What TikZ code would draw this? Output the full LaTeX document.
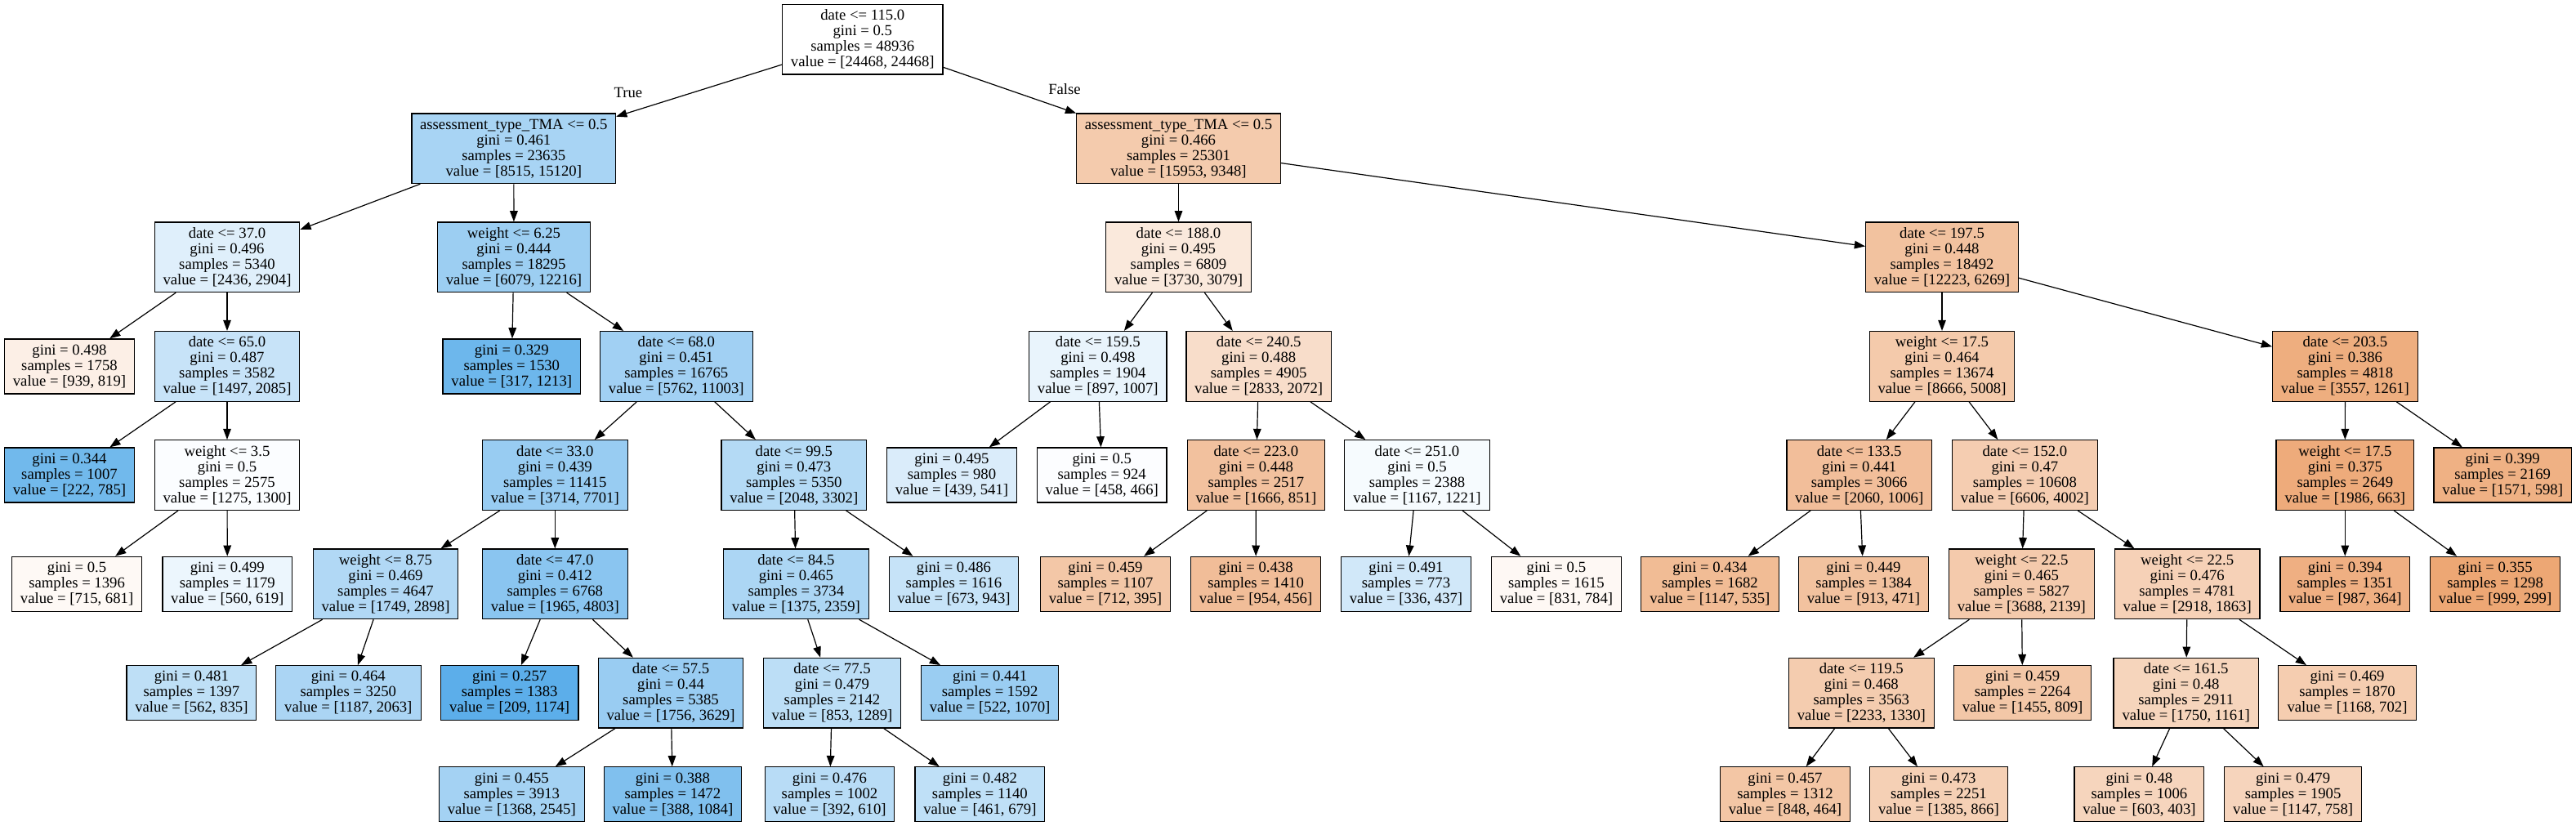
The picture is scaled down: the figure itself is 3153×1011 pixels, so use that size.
\documentclass[tikz,border=0pt]{standalone}
\usepackage{fontspec}
\setmainfont{Liberation Serif}
\usetikzlibrary{arrows.meta}
\definecolor{cO}{HTML}{E58139}
\definecolor{cB}{HTML}{399DE5}
\newcommand{\fs}{\fontsize{9.35pt}{9.5pt}\selectfont}
\tikzset{
  nd/.style={draw=black, line width=0.6pt, rectangle, inner xsep=1pt, inner ysep=0pt, align=center, font=\fs, minimum height=42.85pt},
  lf/.style={nd, minimum height=33.5pt},
  wa/.style={minimum width=79.35pt},
  wb/.style={minimum width=84.25pt},
  wc/.style={minimum width=88.8pt},
  wd/.style={minimum width=93.4pt},
  conn/.style={draw=black, line width=0.6pt, -{Triangle[length=6.6pt,width=4.8pt]}},
  lbl/.style={font=\fs, inner sep=0pt}
}
\begin{document}
\begin{tikzpicture}[x=0.5pt,y=-0.5pt]
\fill[white] (0,0) rectangle (3153,1011);
\useasboundingbox (0,0) rectangle (3153,1011);
% rank 0
\node[nd,minimum width=98.2pt,fill=white] (R) at (1055.8,48.2) {date <= 115.0\\gini = 0.5\\samples = 48936\\value = [24468, 24468]};
% rank 1
\node[nd,minimum width=124.75pt,fill=cB!43.7!white] (L1a) at (628.8,181.8) {assessment\_type\_TMA <= 0.5\\gini = 0.461\\samples = 23635\\value = [8515, 15120]};
\node[nd,minimum width=124.75pt,fill=cO!41.4!white] (L1b) at (1442.5,181.8) {assessment\_type\_TMA <= 0.5\\gini = 0.466\\samples = 25301\\value = [15953, 9348]};
% rank 2
\node[nd,wc,fill=cB!16.1!white] (L2a) at (278,314.8) {date <= 37.0\\gini = 0.496\\samples = 5340\\value = [2436, 2904]};
\node[nd,wd,fill=cB!50.2!white] (L2b) at (629,314.8) {weight <= 6.25\\gini = 0.444\\samples = 18295\\value = [6079, 12216]};
\node[nd,wc,fill=cO!17.5!white] (L2c) at (1442.5,314.8) {date <= 188.0\\gini = 0.495\\samples = 6809\\value = [3730, 3079]};
\node[nd,wd,fill=cO!48.7!white] (L2d) at (2377,314.8) {date <= 197.5\\gini = 0.448\\samples = 18492\\value = [12223, 6269]};
% rank 3
\node[lf,wa,fill=cO!12.8!white] (L3a) at (85,448.4) {gini = 0.498\\samples = 1758\\value = [939, 819]};
\node[nd,wc,fill=cB!28.2!white] (L3b) at (278,448.4) {date <= 65.0\\gini = 0.487\\samples = 3582\\value = [1497, 2085]};
\node[lf,wb,fill=cB!73.9!white] (L3c) at (626.3,448.4) {gini = 0.329\\samples = 1530\\value = [317, 1213]};
\node[nd,wd,fill=cB!47.6!white] (L3d) at (827.8,448.4) {date <= 68.0\\gini = 0.451\\samples = 16765\\value = [5762, 11003]};
\node[nd,wb,fill=cB!10.9!white] (L3e) at (1343.8,448.4) {date <= 159.5\\gini = 0.498\\samples = 1904\\value = [897, 1007]};
\node[nd,wc,fill=cO!26.9!white] (L3f) at (1540.7,448.4) {date <= 240.5\\gini = 0.488\\samples = 4905\\value = [2833, 2072]};
\node[nd,wc,fill=cO!42.2!white] (L3g) at (2377,448.4) {weight <= 17.5\\gini = 0.464\\samples = 13674\\value = [8666, 5008]};
\node[nd,wc,fill=cO!64.5!white] (L3h) at (2870.4,448.4) {date <= 203.5\\gini = 0.386\\samples = 4818\\value = [3557, 1261]};
% rank 4
\node[lf,wa,fill=cB!71.7!white] (L4a) at (85,581.5) {gini = 0.344\\samples = 1007\\value = [222, 785]};
\node[nd,wc,fill=cB!1.9!white] (L4b) at (278,581.5) {weight <= 3.5\\gini = 0.5\\samples = 2575\\value = [1275, 1300]};
\node[nd,wc,fill=cB!51.8!white] (L4c) at (679.3,581.5) {date <= 33.0\\gini = 0.439\\samples = 11415\\value = [3714, 7701]};
\node[nd,wc,fill=cB!38.0!white] (L4d) at (971.8,581.5) {date <= 99.5\\gini = 0.473\\samples = 5350\\value = [2048, 3302]};
\node[lf,wa,fill=cB!18.9!white] (L4e) at (1165,581.5) {gini = 0.495\\samples = 980\\value = [439, 541]};
\node[lf,wa,fill=cB!1.7!white] (L4f) at (1348.7,581.5) {gini = 0.5\\samples = 924\\value = [458, 466]};
\node[nd,wb,fill=cO!48.9!white] (L4g) at (1537.4,581.5) {date <= 223.0\\gini = 0.448\\samples = 2517\\value = [1666, 851]};
\node[nd,wc,fill=cB!4.4!white] (L4h) at (1734.5,581.5) {date <= 251.0\\gini = 0.5\\samples = 2388\\value = [1167, 1221]};
\node[nd,wc,fill=cO!51.2!white] (L4i) at (2275.7,581.5) {date <= 133.5\\gini = 0.441\\samples = 3066\\value = [2060, 1006]};
\node[nd,wc,fill=cO!39.4!white] (L4j) at (2478.4,581.5) {date <= 152.0\\gini = 0.47\\samples = 10608\\value = [6606, 4002]};
\node[nd,wb,fill=cO!66.6!white] (L4k) at (2870.3,581.5) {weight <= 17.5\\gini = 0.375\\samples = 2649\\value = [1986, 663]};
\node[lf,wb,fill=cO!61.9!white] (L4l) at (3063.2,581.5) {gini = 0.399\\samples = 2169\\value = [1571, 598]};
% rank 5
\node[lf,wa,fill=cO!4.8!white] (L5a) at (94.1,714.8) {gini = 0.5\\samples = 1396\\value = [715, 681]};
\node[lf,wa,fill=cB!9.5!white] (L5b) at (278.3,714.8) {gini = 0.499\\samples = 1179\\value = [560, 619]};
\node[nd,wc,fill=cB!39.6!white] (L5c) at (472,714.8) {weight <= 8.75\\gini = 0.469\\samples = 4647\\value = [1749, 2898]};
\node[nd,wc,fill=cB!59.1!white] (L5d) at (679.3,714.8) {date <= 47.0\\gini = 0.412\\samples = 6768\\value = [1965, 4803]};
\node[nd,wc,fill=cB!41.7!white] (L5e) at (974.4,714.8) {date <= 84.5\\gini = 0.465\\samples = 3734\\value = [1375, 2359]};
\node[lf,wa,fill=cB!28.6!white] (L5f) at (1167.5,714.8) {gini = 0.486\\samples = 1616\\value = [673, 943]};
\node[lf,wa,fill=cO!44.5!white] (L5g) at (1353,714.8) {gini = 0.459\\samples = 1107\\value = [712, 395]};
\node[lf,wa,fill=cO!52.2!white] (L5h) at (1537.1,714.8) {gini = 0.438\\samples = 1410\\value = [954, 456]};
\node[lf,wa,fill=cB!23.1!white] (L5i) at (1721,714.8) {gini = 0.491\\samples = 773\\value = [336, 437]};
\node[lf,wa,fill=cO!5.7!white] (L5j) at (1904.9,714.8) {gini = 0.5\\samples = 1615\\value = [831, 784]};
\node[lf,wb,fill=cO!53.4!white] (L5k) at (2092.9,714.8) {gini = 0.434\\samples = 1682\\value = [1147, 535]};
\node[lf,wa,fill=cO!48.4!white] (L5l) at (2281,714.8) {gini = 0.449\\samples = 1384\\value = [913, 471]};
\node[nd,wc,fill=cO!42.0!white] (L5m) at (2474.3,714.8) {weight <= 22.5\\gini = 0.465\\samples = 5827\\value = [3688, 2139]};
\node[nd,wc,fill=cO!36.2!white] (L5n) at (2677.2,714.8) {weight <= 22.5\\gini = 0.476\\samples = 4781\\value = [2918, 1863]};
\node[lf,wa,fill=cO!63.1!white] (L5o) at (2870.3,714.8) {gini = 0.394\\samples = 1351\\value = [987, 364]};
\node[lf,wa,fill=cO!70.1!white] (L5p) at (3054.1,714.8) {gini = 0.355\\samples = 1298\\value = [999, 299]};
% rank 6
\node[lf,wa,fill=cB!32.7!white] (L6a) at (234.4,848.2) {gini = 0.481\\samples = 1397\\value = [562, 835]};
\node[lf,wc,fill=cB!42.5!white] (L6b) at (426.3,848.2) {gini = 0.464\\samples = 3250\\value = [1187, 2063]};
\node[lf,wb,fill=cB!82.2!white] (L6c) at (623.7,848.2) {gini = 0.257\\samples = 1383\\value = [209, 1174]};
\node[nd,wc,fill=cB!51.6!white] (L6d) at (821,848.2) {date <= 57.5\\gini = 0.44\\samples = 5385\\value = [1756, 3629]};
\node[nd,wb,fill=cB!33.8!white] (L6e) at (1018.5,848.2) {date <= 77.5\\gini = 0.479\\samples = 2142\\value = [853, 1289]};
\node[lf,wb,fill=cB!51.2!white] (L6f) at (1211.6,848.2) {gini = 0.441\\samples = 1592\\value = [522, 1070]};
\node[nd,wc,fill=cO!40.4!white] (L6g) at (2278.3,848.2) {date <= 119.5\\gini = 0.468\\samples = 3563\\value = [2233, 1330]};
\node[lf,wb,fill=cO!44.4!white] (L6h) at (2475.6,848.2) {gini = 0.459\\samples = 2264\\value = [1455, 809]};
\node[nd,wc,fill=cO!33.7!white] (L6i) at (2675.7,848.2) {date <= 161.5\\gini = 0.48\\samples = 2911\\value = [1750, 1161]};
\node[lf,wb,fill=cO!39.9!white] (L6j) at (2873,848.2) {gini = 0.469\\samples = 1870\\value = [1168, 702]};
% rank 7
\node[lf,wc,fill=cB!46.2!white] (L7a) at (626.3,972.3) {gini = 0.455\\samples = 3913\\value = [1368, 2545]};
\node[lf,wb,fill=cB!64.2!white] (L7b) at (823.4,972.3) {gini = 0.388\\samples = 1472\\value = [388, 1084]};
\node[lf,wa,fill=cB!35.7!white] (L7c) at (1015.5,972.3) {gini = 0.476\\samples = 1002\\value = [392, 610]};
\node[lf,wa,fill=cB!32.1!white] (L7d) at (1199.4,972.3) {gini = 0.482\\samples = 1140\\value = [461, 679]};
\node[lf,wa,fill=cO!45.3!white] (L7e) at (2185,972.3) {gini = 0.457\\samples = 1312\\value = [848, 464]};
\node[lf,wb,fill=cO!37.5!white] (L7f) at (2372.9,972.3) {gini = 0.473\\samples = 2251\\value = [1385, 866]};
\node[lf,wa,fill=cO!33.2!white] (L7g) at (2618.4,972.3) {gini = 0.48\\samples = 1006\\value = [603, 403]};
\node[lf,wb,fill=cO!33.9!white] (L7h) at (2806.6,972.3) {gini = 0.479\\samples = 1905\\value = [1147, 758]};
% labels
\node[lbl] (tl) at (768.9,113.3) {True};
\node[lbl] (fl) at (1303,109.5) {False};
% edges
\foreach \a/\b in {R/L1a,R/L1b,
  L1a/L2a,L1a/L2b,L2a/L3a,L2a/L3b,L3b/L4a,L3b/L4b,L4b/L5a,L4b/L5b,
  L2b/L3c,L2b/L3d,L3d/L4c,L3d/L4d,L4c/L5c,L4c/L5d,L5c/L6a,L5c/L6b,
  L5d/L6c,L5d/L6d,L6d/L7a,L6d/L7b,L4d/L5e,L4d/L5f,L5e/L6e,L5e/L6f,
  L6e/L7c,L6e/L7d,
  L1b/L2c,L1b/L2d,L2c/L3e,L2c/L3f,L3e/L4e,L3e/L4f,L3f/L4g,L3f/L4h,
  L4g/L5g,L4g/L5h,L4h/L5i,L4h/L5j,L2d/L3g,L2d/L3h,L3g/L4i,L3g/L4j,
  L4i/L5k,L4i/L5l,L4j/L5m,L4j/L5n,L5m/L6g,L5m/L6h,L6g/L7e,L6g/L7f,
  L5n/L6i,L5n/L6j,L6i/L7g,L6i/L7h,L3h/L4k,L3h/L4l,L4k/L5o,L4k/L5p}
  {\draw[conn] (\a) -- (\b);}
\end{tikzpicture}
\end{document}
